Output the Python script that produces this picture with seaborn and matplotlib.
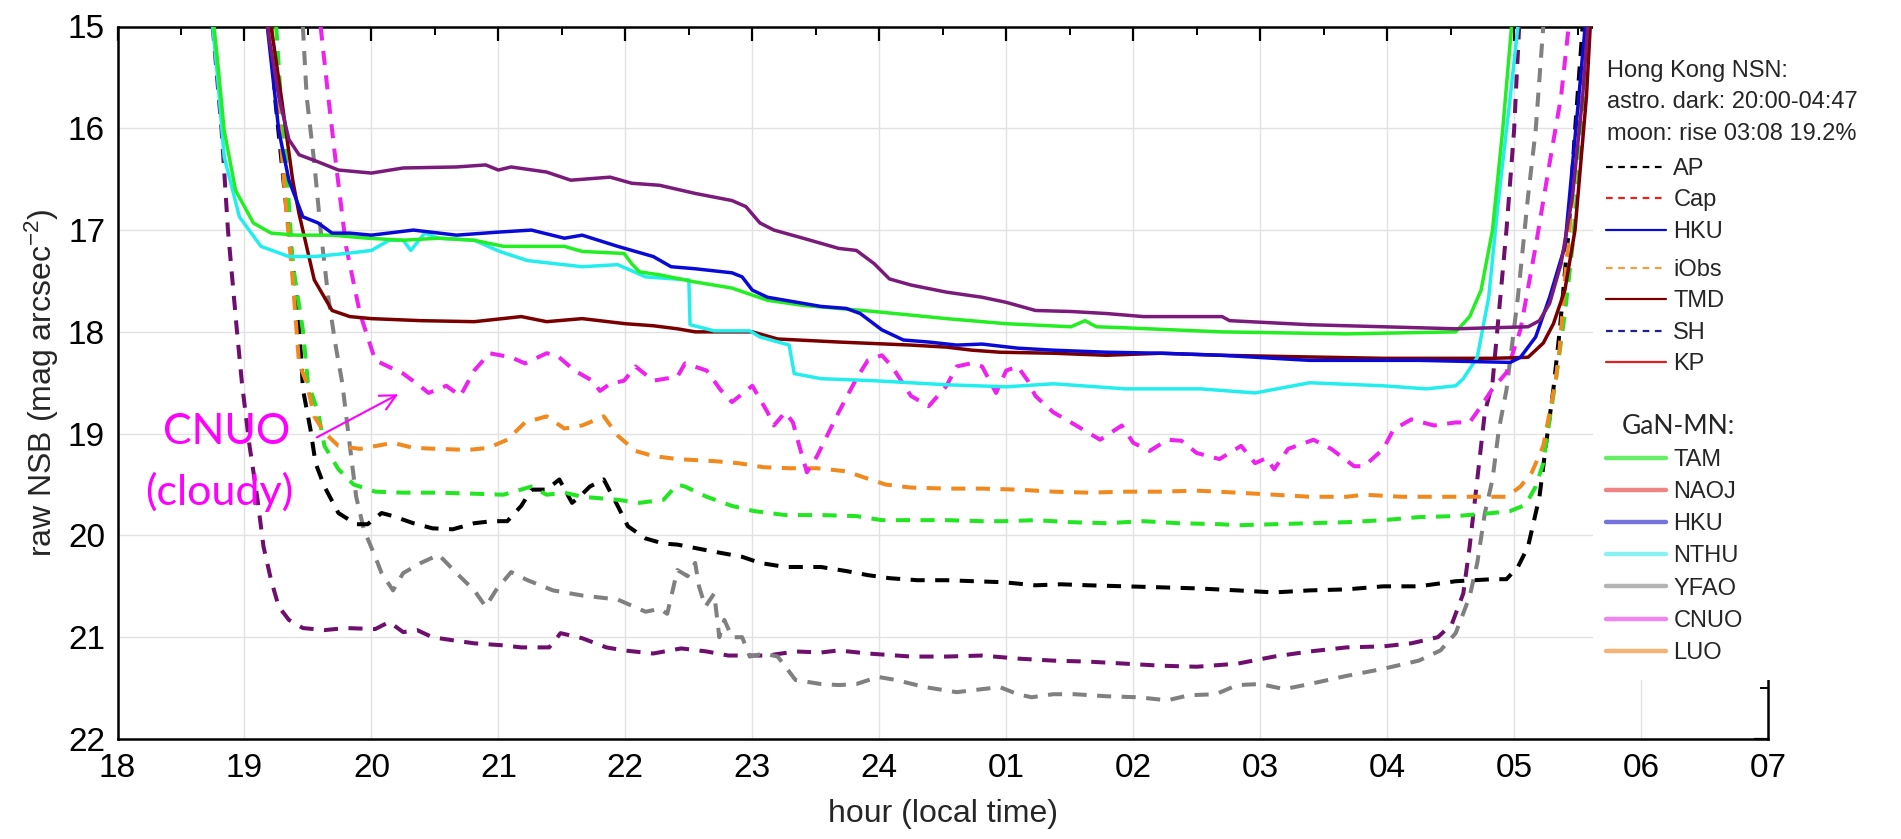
import matplotlib
matplotlib.use("Agg")
import numpy as np
import pandas as pd
import seaborn as sns
import matplotlib.pyplot as plt
from matplotlib.lines import Line2D
from matplotlib.patches import Rectangle

sns.set_style("white")
plt.rcParams["font.family"] = ["Liberation Sans", "DejaVu Sans"]
plt.rcParams["mathtext.default"] = "regular"

# ---------------- data (hour of night, 25 = 01h ... ; raw NSB in mag/arcsec^2) ----------------
x_ticks = list(range(18, 32))
x_tick_labels = ["18", "19", "20", "21", "22", "23", "24", "01", "02", "03", "04", "05", "06", "07"]
y_ticks = list(range(15, 23))

purple_solid_h = [19.18, 19.27, 19.35, 19.43, 19.58, 19.74, 20.0, 20.25, 20.67, 20.9, 21.0, 21.1, 21.38, 21.57, 21.88, 22.05, 22.27, 22.55, 22.84, 22.95, 23.06, 23.17, 23.4, 23.68, 23.82, 23.96, 24.08, 24.25, 24.53, 24.81, 25.0, 25.23, 25.51, 25.79, 26.08, 26.4, 26.7, 26.76, 27.39, 27.97, 28.54, 29.11, 29.2, 29.28, 29.37, 29.46, 29.54, 29.58]
purple_solid_m = [15.0, 15.69, 16.11, 16.26, 16.33, 16.41, 16.44, 16.39, 16.38, 16.36, 16.41, 16.38, 16.43, 16.51, 16.48, 16.54, 16.56, 16.64, 16.71, 16.77, 16.93, 17.0, 17.08, 17.18, 17.2, 17.33, 17.48, 17.54, 17.61, 17.66, 17.71, 17.79, 17.8, 17.82, 17.85, 17.85, 17.85, 17.89, 17.93, 17.95, 17.97, 17.95, 17.89, 17.72, 17.33, 16.67, 15.69, 15.0]

hku_h = [19.18, 19.27, 19.35, 19.46, 19.58, 19.69, 19.83, 20.0, 20.33, 20.67, 21.0, 21.26, 21.52, 21.66, 21.94, 22.22, 22.36, 22.55, 22.84, 22.92, 23.0, 23.12, 23.4, 23.54, 23.74, 23.85, 24.02, 24.19, 24.39, 24.61, 24.81, 25.09, 25.37, 25.79, 26.22, 26.69, 27.39, 28.25, 28.97, 29.05, 29.17, 29.28, 29.4, 29.51, 29.56]
hku_m = [15.0, 16.02, 16.51, 16.87, 16.93, 17.03, 17.03, 17.05, 17.0, 17.05, 17.02, 17.0, 17.08, 17.05, 17.16, 17.26, 17.36, 17.38, 17.42, 17.46, 17.59, 17.66, 17.72, 17.75, 17.77, 17.82, 17.98, 18.08, 18.1, 18.13, 18.12, 18.16, 18.18, 18.2, 18.21, 18.23, 18.28, 18.28, 18.3, 18.25, 18.05, 17.66, 17.16, 15.69, 15.0]

tam_h = [18.76, 18.79, 18.84, 18.93, 19.07, 19.21, 19.41, 19.69, 19.97, 20.25, 20.53, 20.81, 21.04, 21.38, 21.52, 21.66, 21.99, 22.05, 22.11, 22.27, 22.55, 22.84, 23.12, 23.4, 23.96, 24.53, 25.0, 25.51, 25.62, 25.71, 25.93, 26.69, 27.68, 28.54, 28.65, 28.74, 28.83, 28.91, 28.98]
tam_m = [15.0, 15.36, 16.02, 16.61, 16.93, 17.03, 17.05, 17.05, 17.08, 17.1, 17.08, 17.1, 17.16, 17.16, 17.16, 17.21, 17.23, 17.33, 17.41, 17.44, 17.51, 17.57, 17.69, 17.74, 17.8, 17.87, 17.92, 17.95, 17.89, 17.95, 17.96, 18.0, 18.02, 18.0, 17.85, 17.59, 17.0, 16.02, 15.0]

nthu_h = [18.75, 18.79, 18.84, 18.96, 19.13, 19.35, 19.55, 19.8, 20.0, 20.14, 20.25, 20.31, 20.42, 20.53, 20.81, 21.01, 21.23, 21.66, 21.94, 22.16, 22.5, 22.51, 22.7, 22.98, 23.06, 23.29, 23.33, 23.54, 23.96, 24.53, 25.0, 25.37, 25.94, 26.53, 26.96, 27.39, 27.97, 28.31, 28.54, 28.6, 28.71, 28.8, 28.88, 28.97, 29.03]
nthu_m = [15.0, 15.52, 16.28, 16.87, 17.16, 17.26, 17.26, 17.23, 17.2, 17.1, 17.1, 17.2, 17.03, 17.08, 17.1, 17.21, 17.3, 17.36, 17.34, 17.46, 17.49, 17.93, 17.99, 17.99, 18.05, 18.13, 18.41, 18.46, 18.48, 18.52, 18.54, 18.51, 18.56, 18.56, 18.6, 18.5, 18.53, 18.56, 18.53, 18.46, 18.25, 17.66, 16.67, 15.69, 15.0]

tmd_h = [19.21, 19.29, 19.38, 19.43, 19.55, 19.69, 19.83, 20.0, 20.39, 20.81, 21.18, 21.38, 21.66, 22.0, 22.22, 22.41, 22.55, 23.0, 23.2, 23.68, 24.25, 24.53, 24.73, 24.95, 25.37, 25.79, 26.22, 26.69, 27.1, 27.97, 28.83, 29.11, 29.23, 29.31, 29.4, 29.48, 29.57, 29.6]
tmd_m = [15.0, 15.69, 16.51, 16.84, 17.49, 17.79, 17.85, 17.87, 17.89, 17.9, 17.85, 17.9, 17.87, 17.92, 17.94, 17.97, 18.0, 18.0, 18.07, 18.1, 18.13, 18.15, 18.18, 18.2, 18.21, 18.23, 18.21, 18.23, 18.24, 18.26, 18.26, 18.25, 18.11, 17.92, 17.59, 17.0, 15.69, 15.0]

cnuo_h = [19.6, 19.66, 19.72, 19.8, 19.91, 20.03, 20.25, 20.39, 20.45, 20.59, 20.7, 20.81, 20.93, 21.1, 21.21, 21.38, 21.46, 21.6, 21.74, 21.8, 21.88, 21.99, 22.08, 22.22, 22.41, 22.47, 22.64, 22.75, 22.84, 23.0, 23.12, 23.17, 23.26, 23.32, 23.37, 23.43, 23.51, 23.68, 23.82, 23.91, 24.02, 24.1, 24.25, 24.39, 24.53, 24.61, 24.72, 24.81, 24.92, 25.0, 25.09, 25.17, 25.23, 25.37, 25.51, 25.74, 25.91, 26.0, 26.13, 26.27, 26.38, 26.5, 26.68, 26.85, 26.96, 27.05, 27.11, 27.22, 27.42, 27.56, 27.74, 27.82, 27.97, 28.05, 28.19, 28.37, 28.54, 28.65, 28.74, 28.83, 28.94, 29.05, 29.17, 29.28, 29.37, 29.43]
cnuo_m = [15.0, 15.69, 16.34, 17.16, 17.82, 18.28, 18.41, 18.54, 18.6, 18.53, 18.63, 18.38, 18.21, 18.25, 18.31, 18.21, 18.23, 18.38, 18.48, 18.58, 18.51, 18.48, 18.34, 18.48, 18.44, 18.31, 18.38, 18.57, 18.69, 18.53, 18.79, 18.92, 18.79, 18.89, 19.12, 19.38, 19.22, 18.79, 18.46, 18.28, 18.23, 18.34, 18.63, 18.73, 18.53, 18.34, 18.31, 18.34, 18.6, 18.38, 18.34, 18.48, 18.63, 18.79, 18.89, 19.06, 18.92, 19.09, 19.17, 19.06, 19.07, 19.19, 19.25, 19.12, 19.29, 19.24, 19.35, 19.15, 19.06, 19.15, 19.32, 19.32, 19.15, 18.96, 18.86, 18.92, 18.89, 18.89, 18.73, 18.56, 18.4, 17.98, 17.16, 16.34, 15.69, 15.0]

gray_dash_h = [19.46, 19.49, 19.55, 19.6, 19.66, 19.72, 19.77, 19.83, 19.88, 19.94, 20.03, 20.08, 20.17, 20.25, 20.39, 20.53, 20.67, 20.81, 20.9, 20.98, 21.1, 21.23, 21.43, 21.66, 21.94, 22.16, 22.27, 22.33, 22.41, 22.49, 22.55, 22.58, 22.63, 22.7, 22.74, 22.78, 22.84, 22.92, 22.98, 23.09, 23.2, 23.34, 23.54, 23.68, 23.82, 23.99, 24.13, 24.36, 24.61, 24.81, 24.95, 25.09, 25.2, 25.37, 25.54, 25.79, 26.04, 26.27, 26.44, 26.65, 26.82, 27.0, 27.19, 27.39, 27.68, 27.97, 28.25, 28.42, 28.54, 28.65, 28.71, 28.77, 28.83, 28.88, 28.94, 29.03, 29.11, 29.17, 29.23]
gray_dash_m = [15.0, 15.69, 16.34, 17.0, 17.66, 18.15, 18.5, 19.12, 19.62, 19.94, 20.21, 20.37, 20.54, 20.37, 20.27, 20.19, 20.37, 20.54, 20.7, 20.54, 20.36, 20.44, 20.54, 20.59, 20.63, 20.75, 20.72, 20.77, 20.34, 20.4, 20.27, 20.5, 20.7, 20.57, 21.0, 20.83, 21.0, 21.0, 21.19, 21.16, 21.19, 21.42, 21.46, 21.47, 21.46, 21.39, 21.42, 21.49, 21.54, 21.51, 21.49, 21.56, 21.59, 21.56, 21.56, 21.58, 21.59, 21.62, 21.57, 21.56, 21.47, 21.46, 21.51, 21.46, 21.38, 21.31, 21.23, 21.13, 20.96, 20.6, 20.27, 19.78, 19.45, 18.96, 18.57, 17.66, 16.67, 16.02, 15.0]

purple_dash_h = [18.75, 18.82, 18.87, 18.94, 18.98, 19.04, 19.1, 19.15, 19.21, 19.27, 19.35, 19.46, 19.63, 19.8, 20.03, 20.14, 20.25, 20.36, 20.48, 20.64, 20.81, 21.04, 21.18, 21.4, 21.49, 21.66, 21.85, 21.99, 22.22, 22.44, 22.64, 22.81, 23.01, 23.12, 23.34, 23.54, 23.68, 23.91, 24.25, 24.53, 24.81, 25.09, 25.37, 25.65, 25.94, 26.22, 26.5, 26.82, 27.11, 27.39, 27.68, 27.97, 28.19, 28.4, 28.51, 28.6, 28.65, 28.71, 28.77, 28.83, 28.88, 28.94, 29.0, 29.04]
purple_dash_m = [15.0, 16.02, 17.0, 17.98, 18.5, 19.12, 19.62, 20.11, 20.44, 20.7, 20.83, 20.91, 20.93, 20.91, 20.92, 20.85, 20.95, 20.93, 21.0, 21.03, 21.06, 21.08, 21.1, 21.1, 20.96, 21.01, 21.1, 21.13, 21.16, 21.11, 21.14, 21.18, 21.18, 21.18, 21.14, 21.15, 21.13, 21.16, 21.19, 21.19, 21.18, 21.21, 21.23, 21.24, 21.26, 21.28, 21.29, 21.26, 21.19, 21.14, 21.1, 21.09, 21.06, 21.0, 20.87, 20.57, 20.11, 19.45, 18.79, 18.5, 17.82, 17.0, 16.02, 15.0]

iobs_h = [19.21, 19.27, 19.32, 19.38, 19.43, 19.49, 19.55, 19.63, 19.74, 19.91, 20.17, 20.33, 20.53, 20.76, 20.92, 21.07, 21.21, 21.38, 21.52, 21.66, 21.83, 21.94, 22.08, 22.22, 22.41, 22.7, 22.89, 23.09, 23.29, 23.51, 23.74, 23.88, 24.05, 24.25, 24.53, 24.81, 25.09, 25.37, 25.65, 25.94, 26.22, 26.5, 26.82, 27.11, 27.39, 27.68, 27.82, 28.11, 28.4, 28.68, 28.94, 29.05, 29.14, 29.23, 29.28, 29.33, 29.36, 29.4, 29.46, 29.51, 29.57]
iobs_m = [15.0, 15.85, 16.67, 17.49, 18.31, 18.5, 18.83, 18.99, 19.12, 19.15, 19.09, 19.14, 19.15, 19.16, 19.14, 19.06, 18.89, 18.83, 18.95, 18.92, 18.83, 19.02, 19.17, 19.22, 19.25, 19.27, 19.29, 19.33, 19.34, 19.34, 19.37, 19.43, 19.5, 19.53, 19.54, 19.54, 19.55, 19.57, 19.58, 19.57, 19.57, 19.56, 19.58, 19.6, 19.62, 19.62, 19.6, 19.62, 19.62, 19.62, 19.62, 19.52, 19.38, 19.12, 18.79, 18.46, 18.15, 17.49, 16.67, 16.02, 15.0]

green_dash_h = [19.25, 19.29, 19.32, 19.38, 19.46, 19.5, 19.58, 19.63, 19.74, 19.86, 20.03, 20.25, 20.53, 20.81, 21.04, 21.26, 21.38, 21.52, 21.66, 21.94, 22.11, 22.3, 22.41, 22.47, 22.64, 22.84, 23.01, 23.26, 23.54, 23.82, 24.02, 24.25, 24.53, 24.81, 24.98, 25.23, 25.51, 25.79, 26.08, 26.36, 26.69, 26.82, 27.11, 27.39, 27.68, 27.97, 28.25, 28.54, 28.83, 28.97, 29.09, 29.17, 29.23, 29.28, 29.33, 29.4, 29.46, 29.54, 29.58]
green_dash_m = [15.0, 15.79, 16.18, 17.33, 17.98, 18.5, 18.79, 19.12, 19.35, 19.5, 19.57, 19.58, 19.58, 19.59, 19.6, 19.52, 19.6, 19.58, 19.62, 19.65, 19.68, 19.65, 19.5, 19.52, 19.62, 19.71, 19.76, 19.8, 19.8, 19.81, 19.85, 19.85, 19.85, 19.86, 19.86, 19.85, 19.87, 19.88, 19.86, 19.88, 19.89, 19.9, 19.89, 19.88, 19.87, 19.85, 19.82, 19.81, 19.78, 19.76, 19.7, 19.52, 19.29, 18.86, 18.46, 17.82, 17.16, 16.02, 15.0]

ap_h = [19.21, 19.24, 19.32, 19.41, 19.45, 19.46, 19.52, 19.56, 19.63, 19.74, 19.88, 19.97, 20.08, 20.17, 20.33, 20.48, 20.64, 20.81, 20.95, 21.07, 21.18, 21.26, 21.38, 21.48, 21.58, 21.64, 21.72, 21.83, 21.94, 22.02, 22.16, 22.3, 22.41, 22.7, 22.92, 23.06, 23.26, 23.54, 23.74, 23.91, 24.08, 24.3, 24.53, 24.75, 24.98, 25.23, 25.43, 25.65, 25.94, 26.22, 26.5, 26.82, 27.11, 27.39, 27.68, 27.97, 28.25, 28.54, 28.83, 28.94, 29.03, 29.11, 29.2, 29.25, 29.31, 29.36, 29.43, 29.48, 29.54]
ap_m = [15.0, 15.69, 16.67, 17.66, 18.31, 18.56, 18.96, 19.29, 19.52, 19.78, 19.89, 19.89, 19.78, 19.81, 19.88, 19.93, 19.94, 19.88, 19.86, 19.86, 19.71, 19.55, 19.55, 19.45, 19.68, 19.62, 19.52, 19.45, 19.71, 19.91, 20.03, 20.08, 20.09, 20.16, 20.21, 20.27, 20.31, 20.31, 20.35, 20.39, 20.42, 20.44, 20.44, 20.45, 20.46, 20.49, 20.48, 20.49, 20.5, 20.51, 20.52, 20.54, 20.56, 20.54, 20.53, 20.5, 20.5, 20.45, 20.43, 20.43, 20.31, 20.11, 19.62, 19.12, 18.56, 17.98, 17.0, 16.02, 15.0]

# legend labels
hk_labels_a = ["AP", "Cap", "HKU"]
hk_labels_b = ["iObs", "TMD", "SH", "KP"]
gan_labels = ["TAM", "NAOJ", "HKU", "NTHU", "YFAO", "CNUO", "LUO"]

# ---------------- styles ----------------
series = [
    (purple_dash_h, purple_dash_m, "#6e0f6e", True),
    (gray_dash_h, gray_dash_m, "#808080", True),
    (ap_h, ap_m, "#000000", True),
    (green_dash_h, green_dash_m, "#22e622", True),
    (iobs_h, iobs_m, "#f08a1e", True),
    (cnuo_h, cnuo_m, "#ee22ee", True),
    (tmd_h, tmd_m, "#7a0000", False),
    (nthu_h, nthu_m, "#22eeee", False),
    (tam_h, tam_m, "#22ee22", False),
    (hku_h, hku_m, "#0a0ad8", False),
    (purple_solid_h, purple_solid_m, "#7a1a7a", False),
]

W, H = 1901, 839
fig = plt.figure(figsize=(W / 100, H / 100), dpi=100)
ax_l, ax_r, ax_t, ax_b = 117.5, 1768, 26.5, 739
ax = fig.add_axes([ax_l / W, 1 - ax_b / H, (ax_r - ax_l) / W, (ax_b - ax_t) / H])

for h, m, c, dashed in series:
    assert len(h) == len(m)
    sns.lineplot(x=h, y=m, ax=ax, color=c, lw=2.9 if dashed else 2.5,
                 estimator=None, sort=False, zorder=3)
    ln = ax.lines[-1]
    if dashed:
        ln.set_dashes((3.5, 2.6))

ax.set_xlim(18, 31)
ax.set_ylim(22, 15)
ax.set_xticks(x_ticks)
ax.set_xticklabels(x_tick_labels)
ax.set_xticks(np.arange(18.5, 31, 1), minor=True)
ax.set_yticks(y_ticks)
ax.set_yticks(np.arange(15.5, 22, 1), minor=True)
ax.tick_params(which="both", direction="in", top=True, right=True, colors="black", labelsize=24)
ax.tick_params(which="major", length=10, width=1.6)
ax.tick_params(which="minor", length=6, width=1.4)
ax.tick_params(axis="y", pad=9)
ax.tick_params(axis="x", pad=10)
ax.grid(True, which="major", color="#e2e2e2", lw=1.0)
ax.set_axisbelow(True)
for sp in ax.spines.values():
    sp.set_visible(True)
    sp.set_color("black")
    sp.set_linewidth(1.8)

ax.set_xlabel("hour (local time)", fontsize=23, labelpad=11)
ax.set_ylabel("raw NSB (mag arcsec$^{-2}$)", fontsize=23, labelpad=5)

# annotation
ax.text(18.86, 18.98, "CNUO", color="#ff00ff", fontsize=31, family=["Lato", "DejaVu Sans"],
        ha="center", va="center")
ax.text(18.80, 19.57, "(cloudy)", color="#ff00ff", fontsize=31, family=["Lato", "DejaVu Sans"],
        ha="center", va="center")
ax.annotate("", xy=(20.23, 18.6), xytext=(19.55, 19.05),
            arrowprops=dict(arrowstyle="->", color="#ff00ff", lw=1.5, mutation_scale=28))

# white panel behind the legends
fig.add_artist(Rectangle((1593 / W, 1 - 680 / H), 1 - 1593 / W, 680 / H,
                         transform=fig.transFigure, facecolor="white", edgecolor="none", zorder=4))

def fx(px):
    return px / W

def fy(py):
    return 1 - py / H

for txt, yy in [("Hong Kong NSN:", 71), ("astro. dark: 20:00-04:47", 102), ("moon: rise 03:08 19.2%", 134)]:
    fig.text(fx(1607), fy(yy), txt, fontsize=17, va="center", ha="left", zorder=6)
fig.text(fx(1622), fy(426), "GaN-MN:", fontsize=19, va="center", ha="left", zorder=6,
         family=["Lato", "DejaVu Sans"])

hk_a_handles = [
    Line2D([], [], color="#000000", lw=1.6, dashes=(3, 2.5)),
    Line2D([], [], color="#e82020", lw=1.6, dashes=(3, 2.5)),
    Line2D([], [], color="#0a0ad0", lw=1.6),
]
hk_b_handles = [
    Line2D([], [], color="#f0a040", lw=1.6, dashes=(3, 2.5)),
    Line2D([], [], color="#7a0000", lw=1.6),
    Line2D([], [], color="#202090", lw=1.6, dashes=(3, 2.5)),
    Line2D([], [], color="#e02020", lw=1.6),
]
gan_colors = ["#66ee66", "#ee8484", "#7474dc", "#88f2f2", "#b4b4b4", "#f084f0", "#f4b478"]
gan_handles = [Line2D([], [], color=c, lw=3.2) for c in gan_colors]

common = dict(frameon=False, loc="upper left", borderaxespad=0, borderpad=0,
              handlelength=2.55, handletextpad=0.3, fontsize=17)
leg1 = fig.legend(hk_a_handles, hk_labels_a, bbox_to_anchor=(fx(1606), fy(158)), labelspacing=0.40, **common)
leg2 = fig.legend(hk_b_handles, hk_labels_b, bbox_to_anchor=(fx(1606), fy(259)), labelspacing=0.40, **common)
leg3 = fig.legend(gan_handles, gan_labels, bbox_to_anchor=(fx(1606), fy(449)), labelspacing=0.43, **common)
for lg in (leg1, leg2, leg3):
    lg.set_zorder(6)

fig.savefig("out.png", dpi=100)
